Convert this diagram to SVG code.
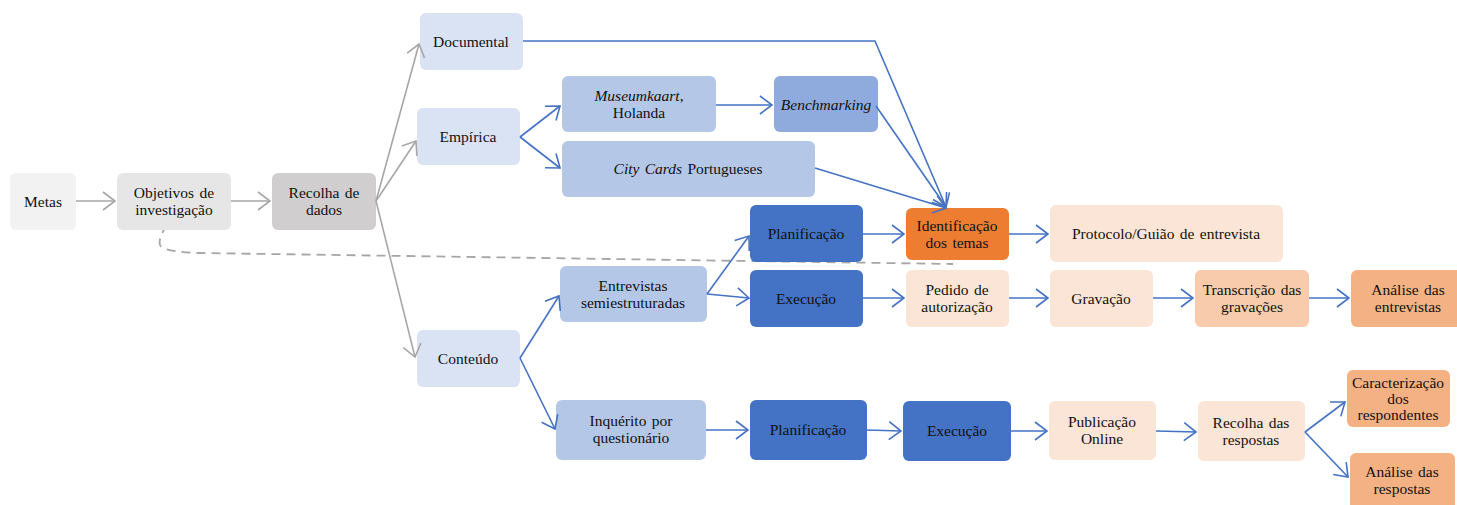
<svg xmlns="http://www.w3.org/2000/svg" width="1457" height="505" viewBox="0 0 1457 505">
  <style>
    text { font-family: "Liberation Serif", "Times New Roman", serif; font-size: 15.5px; word-spacing: 1.5px; fill: #111; text-anchor: middle; }
    .it { font-style: italic; }
    .g1 { fill: #f2f2f2; }
    .g2 { fill: #e7e6e6; }
    .g3 { fill: #d0cece; }
    .b1 { fill: #dae3f3; }
    .b2 { fill: #b4c7e7; }
    .b3 { fill: #8faadc; }
    .b4 { fill: #4472c4; }
    .o1 { fill: #fbe5d6; }
    .o2 { fill: #f8cbad; }
    .o3 { fill: #f4b183; }
    .o4 { fill: #ed7d31; }
    .cg { stroke: #a6a6a6; stroke-width: 1.6; fill: none; marker-end: url(#headGray); }
    .cb { stroke: #4472c4; stroke-width: 1.6; fill: none; marker-end: url(#headBlue); }
    .dash { stroke: #a6a6a6; stroke-width: 1.8; fill: none; stroke-dasharray: 9 6; }
  </style>
  <defs>
    <marker id="headGray" markerUnits="userSpaceOnUse" viewBox="-14 -11 16 22" refX="0" refY="0" markerWidth="16" markerHeight="22" orient="auto">
      <path d="M-12,-9 L0,0 L-12,9" fill="none" stroke="#a6a6a6" stroke-width="1.6"/>
    </marker>
    <marker id="headBlue" markerUnits="userSpaceOnUse" viewBox="-14 -11 16 22" refX="0" refY="0" markerWidth="16" markerHeight="22" orient="auto">
      <path d="M-12,-9 L0,0 L-12,9" fill="none" stroke="#4472c4" stroke-width="1.6"/>
    </marker>
  </defs>

  <!-- dashed link under the flow -->
  <path class="dash" d="M167,225 Q158,238 160,245 Q163,252 200,253 L953,264"/>

  <!-- nodes -->
  <g id="metas"><rect class="g1" x="10" y="173" width="66" height="57" rx="6"/><text x="43" y="207">Metas</text></g>
  <g id="objetivos"><rect class="g2" x="117" y="173" width="114" height="57" rx="6"/><text x="174" y="198">Objetivos de</text><text x="174" y="215">investigação</text></g>
  <g id="recolha-dados"><rect class="g3" x="272" y="173" width="104" height="57" rx="6"/><text x="324" y="198">Recolha de</text><text x="324" y="215">dados</text></g>

  <g id="documental"><rect class="b1" x="420" y="13" width="103" height="57" rx="6"/><text x="471" y="47">Documental</text></g>
  <g id="empirica"><rect class="b1" x="417" y="108" width="103" height="57" rx="6"/><text x="468" y="142">Empírica</text></g>
  <g id="conteudo"><rect class="b1" x="417" y="330" width="103" height="57" rx="6"/><text x="468" y="364">Conteúdo</text></g>

  <g id="museumkaart"><rect class="b2" x="562" y="76" width="154" height="56" rx="6"/><text x="639" y="101"><tspan class="it">Museumkaart</tspan>,</text><text x="639" y="118">Holanda</text></g>
  <g id="benchmarking"><rect class="b3" x="774" y="76" width="104" height="56" rx="6"/><text class="it" x="826" y="110">Benchmarking</text></g>
  <g id="city-cards"><rect class="b2" x="562" y="141" width="253" height="56" rx="6"/><text x="688" y="174"><tspan class="it">City Cards</tspan> Portugueses</text></g>

  <g id="planificacao-1"><rect class="b4" x="750" y="205" width="113" height="57" rx="6"/><text x="806" y="239">Planificação</text></g>
  <g id="identificacao"><rect class="o4" x="906" y="208" width="103" height="52" rx="6"/><text x="957" y="231">Identificação</text><text x="957" y="248">dos temas</text></g>
  <g id="protocolo"><rect class="o1" x="1050" y="205" width="233" height="57" rx="6"/><text x="1166" y="239">Protocolo/Guião de entrevista</text></g>

  <g id="entrevistas"><rect class="b2" x="560" y="266" width="147" height="56" rx="6"/><text x="633" y="291">Entrevistas</text><text x="633" y="308">semiestruturadas</text></g>
  <g id="execucao-1"><rect class="b4" x="750" y="270" width="113" height="57" rx="6"/><text x="806" y="304">Execução</text></g>
  <g id="pedido"><rect class="o1" x="906" y="270" width="103" height="57" rx="6"/><text x="957" y="295">Pedido de</text><text x="957" y="312">autorização</text></g>
  <g id="gravacao"><rect class="o1" x="1050" y="270" width="103" height="57" rx="6"/><text x="1101" y="304">Gravação</text></g>
  <g id="transcricao"><rect class="o2" x="1195" y="270" width="114" height="57" rx="6"/><text x="1252" y="295">Transcrição das</text><text x="1252" y="312">gravações</text></g>
  <g id="analise-entrevistas"><rect class="o3" x="1351" y="270" width="114" height="57" rx="6"/><text x="1408" y="295">Análise das</text><text x="1408" y="312">entrevistas</text></g>

  <g id="inquerito"><rect class="b2" x="556" y="400" width="150" height="60" rx="6"/><text x="631" y="426">Inquérito por</text><text x="631" y="443">questionário</text></g>
  <g id="planificacao-2"><rect class="b4" x="750" y="400" width="117" height="60" rx="6"/><text x="808" y="435">Planificação</text></g>
  <g id="execucao-2"><rect class="b4" x="903" y="401" width="108" height="60" rx="6"/><text x="957" y="436">Execução</text></g>
  <g id="publicacao"><rect class="o1" x="1049" y="401" width="107" height="59" rx="6"/><text x="1102" y="427">Publicação</text><text x="1102" y="444">Online</text></g>
  <g id="recolha-respostas"><rect class="o1" x="1198" y="401" width="107" height="60" rx="6"/><text x="1251" y="428">Recolha das</text><text x="1251" y="445">respostas</text></g>
  <g id="caracterizacao"><rect class="o3" x="1347" y="370" width="103" height="57" rx="6"/><text x="1398" y="388">Caracterização</text><text x="1398" y="404">dos</text><text x="1398" y="420">respondentes</text></g>
  <g id="analise-respostas"><rect class="o3" x="1350" y="453" width="105" height="60" rx="6"/><text x="1402" y="477">Análise das</text><text x="1402" y="494">respostas</text></g>

  <!-- connectors -->
  <g id="connectors">
    <line class="cg" x1="76" y1="201" x2="115" y2="201"/>
    <line class="cg" x1="231" y1="201" x2="270" y2="201"/>
    <line class="cg" x1="376" y1="201" x2="419" y2="44"/>
    <line class="cg" x1="376" y1="201" x2="416" y2="141"/>
    <line class="cg" x1="376" y1="201" x2="415" y2="357"/>

    <polyline class="cb" points="523,41 875,41 946,207"/>
    <line class="cb" x1="876" y1="106" x2="946" y2="207"/>
    <line class="cb" x1="815" y1="168" x2="946" y2="208"/>

    <line class="cb" x1="520" y1="137" x2="560" y2="106"/>
    <line class="cb" x1="520" y1="137" x2="560" y2="168"/>
    <line class="cb" x1="716" y1="105" x2="772" y2="105"/>

    <line class="cb" x1="520" y1="358" x2="559" y2="296"/>
    <line class="cb" x1="520" y1="358" x2="555" y2="429"/>

    <line class="cb" x1="707" y1="294" x2="749" y2="236"/>
    <line class="cb" x1="707" y1="294" x2="749" y2="298"/>
    <line class="cb" x1="863" y1="234" x2="904" y2="234"/>
    <line class="cb" x1="1009" y1="234" x2="1048" y2="234"/>
    <line class="cb" x1="863" y1="298" x2="904" y2="298"/>
    <line class="cb" x1="1009" y1="298" x2="1048" y2="298"/>
    <line class="cb" x1="1153" y1="298" x2="1193" y2="298"/>
    <line class="cb" x1="1309" y1="298" x2="1349" y2="298"/>

    <line class="cb" x1="706" y1="430" x2="748" y2="430"/>
    <line class="cb" x1="867" y1="430" x2="901" y2="431"/>
    <line class="cb" x1="1011" y1="431" x2="1047" y2="431"/>
    <line class="cb" x1="1156" y1="431" x2="1196" y2="432"/>
    <line class="cb" x1="1305" y1="432" x2="1345" y2="402"/>
    <line class="cb" x1="1305" y1="432" x2="1348" y2="477"/>
  </g>
</svg>
